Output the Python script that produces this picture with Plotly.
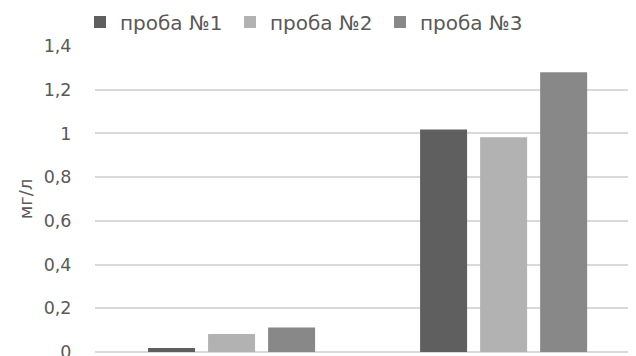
import plotly.graph_objects as go

# категории (подписи по оси X в исходнике обрезаны)
categories = ["точка 1", "точка 2"]
series_names = ["проба №1", "проба №2", "проба №3"]
proba1 = [0.018, 1.018]
proba2 = [0.082, 0.982]
proba3 = [0.112, 1.28]
colors = ["#5f5f5f", "#b2b2b2", "#888888"]

font_family = "DejaVu Sans"
text_color = "#595959"

fig = go.Figure()
for name, vals, col in zip(series_names, [proba1, proba2, proba3], colors):
    fig.add_trace(go.Bar(x=categories, y=vals, name=name, marker_color=col,
                         marker_line_width=0))

# страница html сдвинута на 8px (отступ body), поэтому поля меньше на 8
fig.update_layout(
    width=636, height=356,
    margin=dict(l=87, r=0, t=38, b=12, autoexpand=False),
    paper_bgcolor="white", plot_bgcolor="white",
    barmode="group", bargap=0.338, bargroupgap=0.217,
    font=dict(family=font_family, color=text_color, size=17.5),
    showlegend=True,
    legend=dict(orientation="h", xref="container", yref="container",
                x=72/636, y=1-14/356, xanchor="left", yanchor="middle",
                font=dict(size=20, color=text_color), entrywidth=105,
                bgcolor="rgba(0,0,0,0)"),
    separators=", ",
)
fig.update_xaxes(type="category", range=[-0.502, 1.516], showticklabels=False,
                 showgrid=False, zeroline=False, showline=False, ticks="")
fig.update_yaxes(range=[0, 1.4], dtick=0.2, tickformat=",.1~f",
                 showgrid=True, gridcolor="#d9d9d9", gridwidth=1.5,
                 zeroline=True, zerolinecolor="#d9d9d9", zerolinewidth=1.5,
                 ticks="outside", ticklen=19, tickcolor="rgba(0,0,0,0)",
                 tickfont=dict(size=17.5, color=text_color),
                 title=dict(text="мг/л", font=dict(size=18, color=text_color), standoff=6),
                 automargin=False)

fig.write_html("out.html")
